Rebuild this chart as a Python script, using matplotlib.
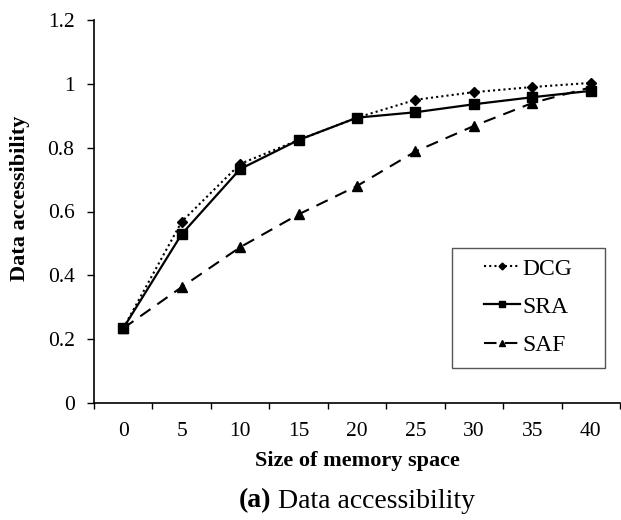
import matplotlib
matplotlib.use("Agg")
import matplotlib.pyplot as plt
from matplotlib.patches import Rectangle
import numpy as np

categories = ["0", "5", "10", "15", "20", "25", "30", "35", "40"]
dcg = [0.234, 0.568, 0.749, 0.824, 0.894, 0.950, 0.974, 0.990, 1.003]
sra = [0.234, 0.529, 0.733, 0.824, 0.894, 0.911, 0.936, 0.958, 0.978]
saf = [0.234, 0.363, 0.488, 0.591, 0.680, 0.788, 0.868, 0.940, 0.989]
yticks = [0, 0.2, 0.4, 0.6, 0.8, 1, 1.2]
ytick_labels = ["0", "0.2", "0.4", "0.6", "0.8", "1", "1.2"]

plt.rcParams['font.family'] = ['Liberation Serif', 'DejaVu Serif']

W, H = 621, 520
fig = plt.figure(figsize=(W/100, H/100), dpi=100)
ax = fig.add_axes([94/W, (H-403)/H, 526/W, 383/H])
x = np.arange(len(categories))

ax.plot(x, dcg, linestyle=(0, (1, 1.5)), color='black', linewidth=1.5,
        marker='D', markersize=5, label='DCG')
ax.plot(x, sra, linestyle='-', color='black', linewidth=1.6,
        marker='s', markersize=6.5, label='SRA')
ax.plot(x, saf, linestyle=(0, (6, 4)), color='black', linewidth=1.5,
        marker='^', markersize=7, label='SAF')

ax.set_xlim(-0.5, len(categories) - 0.5)
ax.set_ylim(0, 1.2)
ax.set_yticks(yticks)
ax.set_yticklabels(ytick_labels, fontsize=15.5)
ax.set_xticks(x)
ax.set_xticklabels(categories, fontsize=15.5)
ax.set_xticks(np.arange(-0.5, len(categories) + 0.5, 1), minor=True)
ax.tick_params(axis='x', which='major', length=0, pad=14)
ax.tick_params(axis='x', which='minor', length=4.5, direction='out', width=1)
ax.tick_params(axis='y', which='major', length=5, direction='out', width=1, pad=9)

for s in ['top', 'right']:
    ax.spines[s].set_visible(False)
for s in ['left', 'bottom']:
    ax.spines[s].set_linewidth(1.2)

ax.set_xlabel("Size of memory space", fontsize=16, fontweight='bold')
ax.xaxis.set_label_coords(0.5, (403 - 461) / 383)
ax.xaxis.label.set_va('center')
ax.set_ylabel("Data accessibility", fontsize=16, fontweight='bold')
ax.yaxis.set_label_coords((20 - 94) / 526, (403 - 198) / 383)
ax.yaxis.label.set_va('center')

# legend frame (drawn separately for wider padding)
bx0, bx1, by0, by1 = 452, 605, 248, 368
frame = Rectangle(((bx0 - 94) / 526, (403 - by1) / 383), (bx1 - bx0) / 526,
                  (by1 - by0) / 383, transform=ax.transAxes, fill=True,
                  facecolor='white', edgecolor='#555555', linewidth=1.0,
                  zorder=4, clip_on=False)
ax.add_patch(frame)
leg = ax.legend(loc='center', bbox_to_anchor=((528 - 94) / 526, (403 - 307) / 383),
                fontsize=17, frameon=False,
                handlelength=1.5, handletextpad=0.1, borderpad=0.3,
                labelspacing=0.7, markerscale=0.7, borderaxespad=0)
leg.set_zorder(5)

# caption centred under the axes
cx = (94 + 620) / 2 / W
cy = (H - 501) / H
fig.canvas.draw()
r = fig.canvas.get_renderer()
t1 = fig.text(0, cy, "(a)", fontsize=20, fontweight='bold', ha='left', va='center')
t2 = fig.text(0, cy, " Data accessibility", fontsize=20, ha='left', va='center')
w1 = t1.get_window_extent(r).width / W
w2 = t2.get_window_extent(r).width / W
start = cx - (w1 + w2) / 2
t1.set_x(start)
t2.set_x(start + w1)

fig.savefig("out.png", dpi=100)
